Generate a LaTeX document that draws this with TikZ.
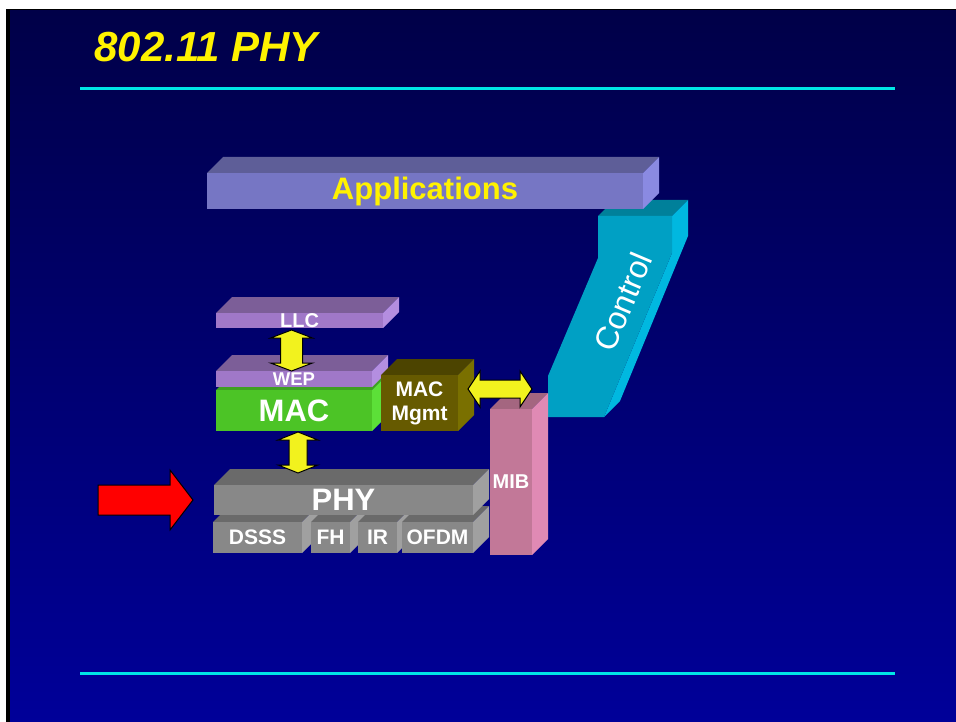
\documentclass[tikz,border=0pt]{standalone}
\usepackage{fontspec}
\setmainfont{Liberation Sans}
\usetikzlibrary{calc}

\definecolor{bgtop}{RGB}{0,0,72}
\definecolor{bgbot}{RGB}{0,0,153}
\definecolor{ruleC}{RGB}{0,230,230}
\definecolor{appF}{HTML}{7676C4} \definecolor{appT}{HTML}{5E5E98} \definecolor{appS}{HTML}{8A8AE2}
\definecolor{llcF}{HTML}{A078C8} \definecolor{llcT}{HTML}{7C5E98} \definecolor{llcS}{HTML}{B48EE0}
\definecolor{macF}{HTML}{4CC426} \definecolor{macT}{HTML}{3EA020} \definecolor{macS}{HTML}{5CE038}
\definecolor{mgtF}{HTML}{665A00} \definecolor{mgtT}{HTML}{4C4400} \definecolor{mgtS}{HTML}{7A7000}
\definecolor{phyF}{HTML}{888888} \definecolor{phyT}{HTML}{6A6A6A} \definecolor{phyS}{HTML}{A0A0A0}
\definecolor{mibF}{HTML}{C27898} \definecolor{mibT}{HTML}{A46680} \definecolor{mibS}{HTML}{E08AB4}
\definecolor{ctlF}{HTML}{00A0C4} \definecolor{ctlT}{HTML}{00809A} \definecolor{ctlS}{HTML}{00B8E0}
\definecolor{arrY}{HTML}{F2F21E}

\tikzset{
  face/.style={inner sep=0pt, outer sep=0pt, text=white, align=center, font=\bfseries},
  fs/.style={font=\bfseries\fontsize{#1}{#1}\selectfont},
  yarrow/.style={fill=arrY, draw=black, line width=1pt, line join=miter},
  redarrow/.style={fill=red, draw=black, line width=1pt},
  rule/.style={draw=ruleC, line width=3pt},
}

% slab: [text options]{name}{x}{y}{width}{height}{colour set}{label}
\newcommand\slab[8][]{%
  \fill[#7T] (#3,#4) -- ++(16,-16) -- ++(#5,0) -- ++(-16,16) -- cycle;
  \fill[#7S] (#3+#5,#4) -- ++(16,-16) -- ++(0,#6) -- ++(-16,16) -- cycle;
  \fill[#7F] (#3,#4) rectangle ++(#5,#6);
  \node[face, minimum width=#5, minimum height=#6, #1] (#2) at (#3+#5/2,#4+#6/2) {#8};
}
% double block arrows between two named tips
\newcommand\vboth[4]{%
  \draw[yarrow] (#1) -- ++(-#3,8) -- ++(#3-#4,0) -- ($(#2)+(-#4,-8)$) -- ++(#4-#3,0) -- (#2)
    -- ++(#3,-8) -- ++(#4-#3,0) -- ($(#1)+(#4,8)$) -- ++(#3-#4,0) -- cycle;
}
\newcommand\hboth[4]{%
  \draw[yarrow] (#1) -- ++(12,-#3) -- ++(0,#3-#4) -- ($(#2)+(-12,-#4)$) -- ++(0,#4-#3) -- (#2)
    -- ++(-12,#3) -- ++(0,#4-#3) -- ($(#1)+(12,#4)$) -- ++(0,#3-#4) -- cycle;
}

\begin{document}
\begin{tikzpicture}[x=1pt,y=-1pt]
  \useasboundingbox (0,0) rectangle (956,722);
  % background
  \fill[white] (0,0) rectangle (956,722);
  \fill[black] (6,9) rectangle (956,722);
  \shade[top color=bgtop, bottom color=bgbot] (10,11) rectangle (956,722);

  \node[anchor=base west, text=yellow, font=\bfseries\itshape\fontsize{42}{42}\selectfont] (title) at (91,62) {802.11 PHY};
  \draw[rule] (80,89) -- (895,89);
  \draw[rule] (80,673) -- (895,673);

  % control column
  \fill[ctlT] (598,216) -- (614,200) -- (688,200) -- (672,216) -- cycle;
  \fill[ctlS] (672,216) -- (688,200) -- (688,236) -- (620,401) -- (604,417) -- (672,253) -- cycle;
  \fill[ctlF] (598,216) -- (672,216) -- (672,253) -- (604,417) -- (548,417) -- (548,376) -- (598,258) -- cycle;
  \node[rotate=67, text=white, font=\fontsize{32}{32}\selectfont] (control) at (623,302) {Control};

  \slab[fs=31, text=yellow]{appl}{207}{173}{436}{36}{app}{Applications}

  % phy stack
  \slab[fs=21]{dsss}{213}{522}{89}{31}{phy}{DSSS}
  \slab[fs=21]{fh}{311}{522}{39}{31}{phy}{FH}
  \slab[fs=21]{ir}{358}{522}{39}{31}{phy}{IR}
  \slab[fs=21]{ofdm}{402}{522}{71}{31}{phy}{OFDM}
  \slab[fs=31]{phy}{214}{485}{259}{30}{phy}{PHY}

  % mac stack
  \slab[fs=31]{mac}{216}{390}{156}{41}{mac}{MAC}
  \slab[fs=18.5]{wep}{216}{371}{156}{16}{llc}{WEP}
  \slab[fs=20]{llc}{216}{313}{167}{15}{llc}{LLC}
  \slab[font=\bfseries\fontsize{21}{24}\selectfont]{mgmt}{381}{375}{77}{56}{mgt}{MAC\\Mgmt}
  \slab[fs=20]{mib}{490}{409}{42}{146}{mib}{MIB}

  % arrows
  \coordinate (lwT) at ($(llc.south)+(-8,2)$);
  \coordinate (lwB) at (lwT |- wep.north);
  \vboth{lwT}{lwB}{21}{11}
  \coordinate (mpT) at ($(mac.south)+(4,1)$);
  \path (mpT |- phy.north) ++(0,-12) coordinate (mpB);
  \vboth{mpT}{mpB}{20}{9}
  \coordinate (mmL) at ($(mgmt.east)+(10,-14)$);
  \coordinate (mmR) at (mmL -| mib.north east);
  \hboth{mmL}{mmR}{18}{9}

  \path (phy.west) ++(-21,0) coordinate (rTip);
  \draw[redarrow] (rTip) -- ++(-23,-30) -- ++(0,15) -- ++(-72,0) -- ++(0,30) -- ++(72,0) -- ++(0,15) -- cycle;
\end{tikzpicture}
\end{document}
